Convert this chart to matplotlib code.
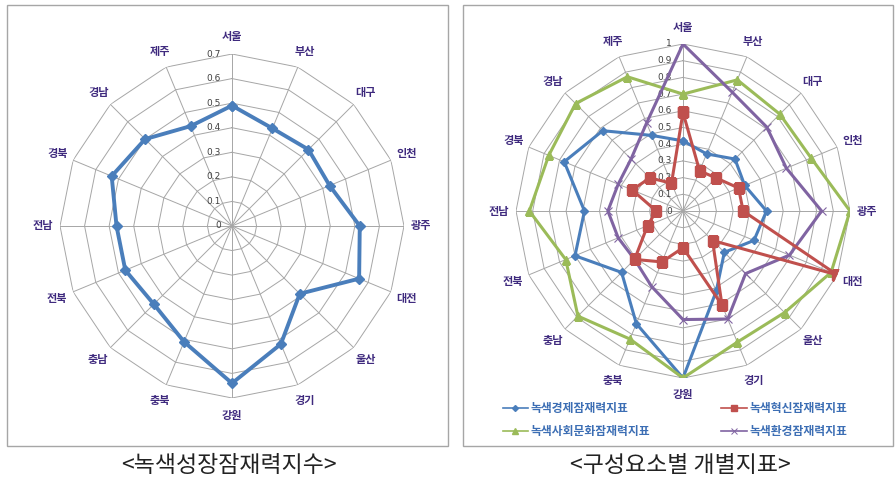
import numpy as np
import matplotlib
matplotlib.use("Agg")
import matplotlib.pyplot as plt
from matplotlib.patches import Rectangle
from matplotlib.lines import Line2D

plt.rcParams['font.family'] = ['Noto Sans CJK KR', 'DejaVu Sans']

regions = ['서울', '부산', '대구', '인천', '광주', '대전', '울산', '경기',
           '강원', '충북', '충남', '전북', '전남', '경북', '경남', '제주']

# 녹색성장잠재력지수
total_index = [0.49, 0.43, 0.44, 0.43, 0.52, 0.56, 0.39, 0.52,
               0.64, 0.51, 0.45, 0.47, 0.47, 0.53, 0.50, 0.44]

# 구성요소별 개별지표
economy = [0.42, 0.37, 0.44, 0.40, 0.50, 0.46, 0.35, 0.52,
           1.00, 0.73, 0.52, 0.70, 0.59, 0.77, 0.68, 0.49]
innovation = [0.59, 0.26, 0.28, 0.36, 0.36, 1.00, 0.25, 0.61,
              0.22, 0.33, 0.41, 0.23, 0.16, 0.33, 0.28, 0.18]
social = [0.70, 0.85, 0.82, 0.83, 1.00, 0.96, 0.86, 0.85,
          1.00, 0.83, 0.89, 0.76, 0.92, 0.87, 0.91, 0.87]
environment = [1.00, 0.77, 0.71, 0.67, 0.83, 0.69, 0.53, 0.70,
               0.65, 0.49, 0.41, 0.42, 0.45, 0.42, 0.44, 0.57]

GRID = '#A6A6A6'
LABEL = '#3F2A7E'
BLUE = '#4A7EBB'
RED = '#C0504D'
GREEN = '#9BBB59'
PURPLE = '#8064A2'

W, H = 896, 484
fig = plt.figure(figsize=(W / 100, H / 100), dpi=100)

n = len(regions)
theta = np.linspace(0, 2 * np.pi, n, endpoint=False)
theta_c = np.append(theta, theta[0])


def closed(vals):
    return np.append(vals, vals[0])


def radar_axes(cx, cy, rad, rmax, step, tick_fmt):
    ax = fig.add_axes([(cx - rad) / W, (H - cy - rad) / H, 2 * rad / W, 2 * rad / H],
                      projection='polar')
    ax.set_theta_zero_location('N')
    ax.set_theta_direction(-1)
    ax.set_ylim(0, rmax)
    ax.grid(False)
    ax.spines['polar'].set_visible(False)
    ax.set_xticks([])
    ax.set_yticks([])
    ax.patch.set_alpha(0)

    levels = np.round(np.arange(step, rmax + step / 2, step), 2)
    for r in levels:
        ax.plot(theta_c, [r] * (n + 1), color=GRID, lw=0.7, zorder=1)
    for t in theta:
        ax.plot([t, t], [0, rmax], color=GRID, lw=0.7, zorder=1)

    for r in np.append(0, levels):
        ax.annotate(tick_fmt(r), xy=(0, r), xytext=(-8, 0), textcoords='offset points',
                    ha='right', va='center', fontsize=6.5, color='#404040',
                    family=['DejaVu Sans'])

    for t, name in zip(theta, regions):
        ax.text(t, rmax * 1.1, name, ha='center', va='center', fontsize=8,
                fontweight='bold', color=LABEL)
    return ax


def fmt(r):
    return '%g' % round(r, 1)


# left: overall index
ax1 = radar_axes(232, 226, 172, 0.7, 0.1, fmt)
ax1.plot(theta_c, closed(total_index), color=BLUE, lw=2.8, marker='D',
         markersize=5.5, zorder=3)

# right: component indicators
ax2 = radar_axes(683, 211, 167, 1.0, 0.1, fmt)
ax2.plot(theta_c, closed(economy), color=BLUE, lw=2.2, marker='D',
         markersize=4, zorder=3)
ax2.plot(theta_c, closed(innovation), color=RED, lw=2.2, marker='s',
         markersize=6.5, zorder=4)
ax2.plot(theta_c, closed(social), color=GREEN, lw=2.2, marker='^',
         markersize=6, zorder=3)
ax2.plot(theta_c, closed(environment), color=PURPLE, lw=2.2, marker='x',
         markersize=6, markeredgewidth=0.8, zorder=3)

handles = [Line2D([], [], color=BLUE, lw=1.2, marker='D', markersize=3),
           Line2D([], [], color=GREEN, lw=1.2, marker='^', markersize=4),
           Line2D([], [], color=RED, lw=1.2, marker='s', markersize=5),
           Line2D([], [], color=PURPLE, lw=1.2, marker='x', markersize=5, markeredgewidth=0.7)]
labels = ['녹색경제잠재력지표', '녹색사회문화잠재력지표', '녹색혁신잠재력지표', '녹색환경잠재력지표']
fig.legend(handles, labels, ncol=2, loc='center', bbox_to_anchor=(675 / W, 1 - 420 / H),
           frameon=False, handlelength=2.2, handletextpad=0.2,
           columnspacing=6.0, labelspacing=0.85, labelcolor='#3C6EB4',
           prop={'weight': 'bold', 'size': 8.5})

# chart frames
for x0, x1 in [(7, 448), (463, 893)]:
    fig.add_artist(Rectangle((x0 / W, 1 - 446 / H), (x1 - x0) / W, 441 / H,
                             transform=fig.transFigure, fill=False,
                             edgecolor='#A6A6A6', lw=1))

fig.text(229 / W, 1 - 466 / H, '<녹색성장잠재력지수>', ha='center', va='center',
         fontsize=16.5, color='#222222')
fig.text(680 / W, 1 - 466 / H, '<구성요소별 개별지표>', ha='center', va='center',
         fontsize=16.5, color='#222222')

fig.savefig('out.png', dpi=100)
